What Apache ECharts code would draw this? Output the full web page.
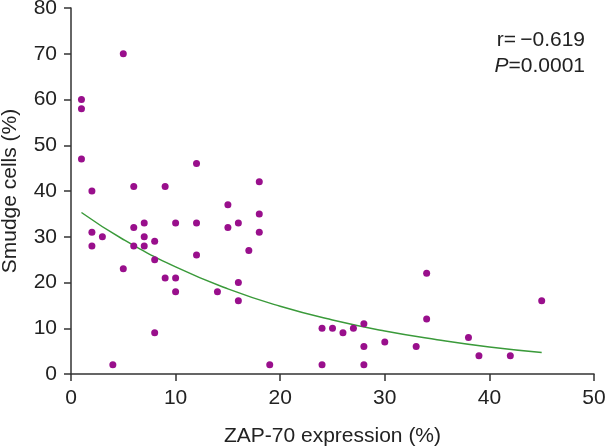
<!DOCTYPE html>
<html>
<head>
<meta charset="utf-8">
<script src="https://cdn.jsdelivr.net/npm/echarts@6/dist/echarts.min.js"></script>
<style>html,body{margin:0;padding:0;background:#fff;}#c{width:606px;height:446px;}</style>
</head>
<body>
<div id="c"></div>
<script>
var zapX = [1,1,1,2,2,2,3,4,5,5,6,6,6,7,7,7,8,8,8,9,9,10,10,10,12,12,12,14,15,15,16,16,16,17,18,18,18,19,24,24,25,26,27,28,28,28,30,33,34,34,38,39,42,45];
var smudgeY = [60,58,47,40,31,28,30,2,70,23,41,32,28,33,30,28,29,25,9,41,21,33,21,18,46,33,26,18,37,32,33,20,16,27,42,35,31,2,10,2,10,9,10,11,6,2,7,6,22,12,8,4,4,16];
var fitX = [1,5,10,15,20,25,30,35,40,45];
var fitY = [35.3,29.4,23.4,18.6,14.8,11.8,9.4,7.5,5.9,4.7];
var xTicks = [0,10,20,30,40,50];
var yTicks = [0,10,20,30,40,50,60,70,80];

var pts = zapX.map(function(x,i){return [x, smudgeY[i]];});
var fit = fitX.map(function(x,i){return [x, fitY[i]];});
var font = '"Liberation Sans", Arial, sans-serif';
var fs = 21;
var chart = echarts.init(document.getElementById('c'));
chart.setOption({
  animation:false,
  grid:{left:71,right:12,top:8,bottom:72,containLabel:false,outerBoundsMode:'none'},
  xAxis:{type:'value',min:xTicks[0],max:xTicks[xTicks.length-1],interval:10,
    name:'ZAP-70 expression (%)',nameLocation:'middle',nameGap:52,
    nameTextStyle:{fontFamily:font,fontSize:fs,color:'#222'},
    axisLine:{lineStyle:{color:'#333',width:1.5}},
    axisTick:{show:true,length:7,lineStyle:{color:'#333',width:1.5}},
    axisLabel:{fontFamily:font,fontSize:fs,color:'#222',margin:14},
    splitLine:{show:false}},
  yAxis:{type:'value',min:yTicks[0],max:yTicks[yTicks.length-1],interval:10,
    name:'Smudge cells (%)',nameLocation:'middle',nameGap:50,
    nameTextStyle:{fontFamily:font,fontSize:fs,color:'#222'},
    axisLine:{show:true,lineStyle:{color:'#333',width:1.5}},
    axisTick:{show:true,length:7,lineStyle:{color:'#333',width:1.5}},
    axisLabel:{fontFamily:font,fontSize:fs,color:'#222',margin:14},
    splitLine:{show:false}},
  series:[
    {type:'line',data:fit,smooth:true,showSymbol:false,symbol:'none',
     lineStyle:{color:'#3a9a3a',width:1.5},z:1},
    {type:'scatter',data:pts,symbolSize:7,itemStyle:{color:'#990f8c',opacity:1},z:2}
  ],
  graphic:[
    {type:'text',x:585,y:40.5,style:{text:'r=\u2009\u22120.619',font:fs+'px '+font,fill:'#222',align:'right',verticalAlign:'middle'}},
    {type:'text',x:585,y:66,style:{rich:{i:{fontStyle:'italic',fontSize:fs,fontFamily:font,fill:'#222'},n:{fontSize:fs,fontFamily:font,fill:'#222'}},text:'{i|P}{n|=0.0001}',align:'right',verticalAlign:'middle'}}
  ]
});
</script>
</body>
</html>
